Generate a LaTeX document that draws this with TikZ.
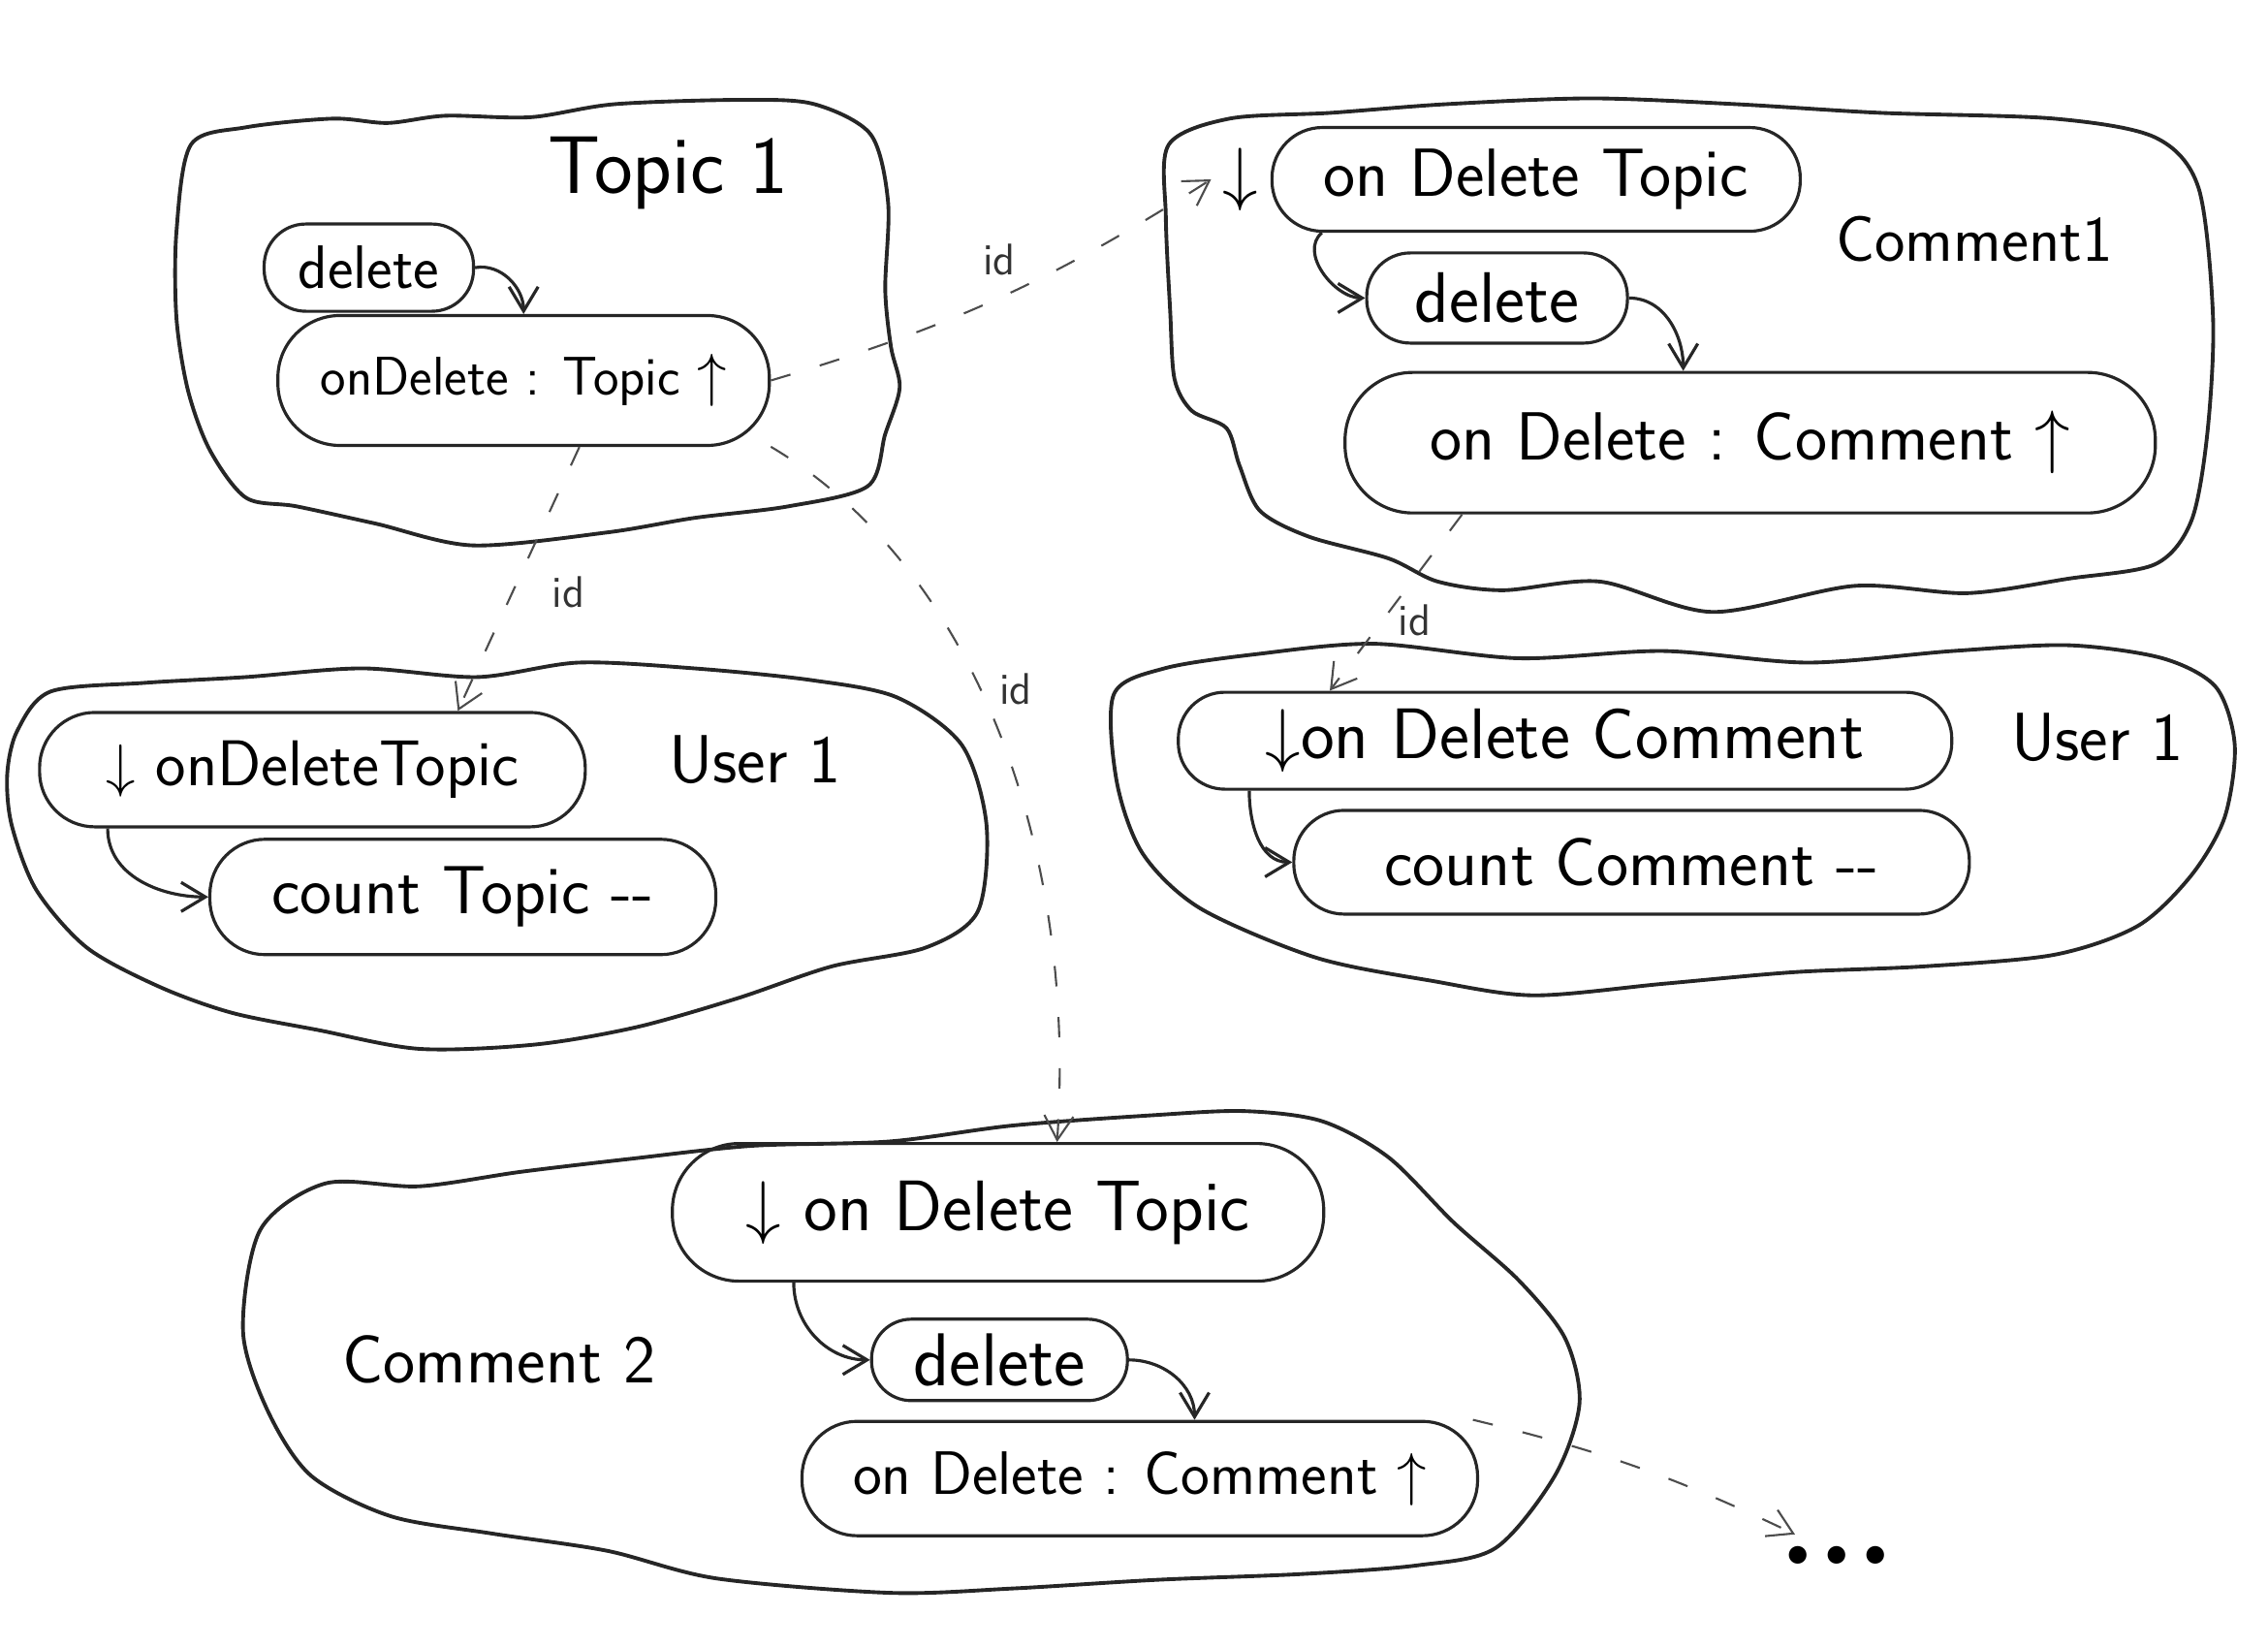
\documentclass[tikz,border=0pt]{standalone}
\usepackage{tikz}
\usetikzlibrary{arrows.meta, positioning}

\begin{document}
\begin{tikzpicture}[
    x=0.014923cm, y=-0.014923cm,
    blob/.style={draw=black!85, line width=1.1pt},
    method/.style={draw=black!85, rectangle, rounded corners=0.42cm,
                   line width=0.9pt, inner sep=2pt, font=\sffamily\fontsize{20}{24}\selectfont},
    blobtitle/.style={font=\sffamily\fontsize{20}{24}\selectfont},
    flow/.style={draw=black!85, line width=0.9pt, -{Straight Barb[length=2.5mm, width=3mm]}},
    link/.style={draw=black!70, line width=0.6pt, dash pattern=on 6pt off 9pt,
                 -{Straight Barb[length=2.5mm, width=3mm]}},
    idlabel/.style={font=\sffamily\fontsize{13}{15}\selectfont, text=black!80}
]
    \useasboundingbox (0,0) rectangle (1568,1139);

    % ==================== TOPIC 1 ====================
    \draw[blob] plot[smooth cycle] coordinates {(132,100) (170,88) (230,82) (268,85)
        (308,80) (367,81) (425,72) (514,69) (563,72) (602,93) (614,140) (612,200)
        (616,240) (622,268) (612,300) (600,336) (545,350) (480,358) (420,368)
        (327,377) (260,362) (205,350) (170,344) (145,311) (130,270) (122,220) (122,160)};
    \node[blobtitle, font=\sffamily\fontsize{24}{28}\selectfont] (topictitle) at (462,120) {Topic 1};
    \node[method, minimum width=2.16cm, minimum height=0.9cm, rounded corners=0.43cm,
          font=\sffamily\fontsize{18}{22}\selectfont] (tdelete) at (255,185) {delete};
    \node[method, minimum width=5.07cm, minimum height=1.34cm, rounded corners=0.64cm,
          font=\sffamily\fontsize{16}{19}\selectfont] (tondelete) at (362,263) {onDelete : Topic $\uparrow$};

    % ==================== COMMENT 1 ====================
    \draw[blob] plot[smooth cycle] coordinates {(808,100) (850,82) (920,78) (1000,72)
        (1100,68) (1200,72) (1300,78) (1420,82) (1490,95) (1520,130) (1530,220)
        (1526,300) (1515,360) (1490,390) (1430,400) (1360,410) (1282,405) (1184,423)
        (1106,402) (1039,408) (994,402) (960,386) (905,371) (871,353) (857,322)
        (848,296) (824,284) (812,262) (809,215) (806,150)};
    \node[blobtitle, font=\sffamily\fontsize{19}{22}\selectfont] (c1title) at (1365,165) {Comment1};
    \node[method, minimum width=5.45cm, minimum height=1.07cm, rounded corners=0.52cm,
          label={[name=c1arrow, font=\sffamily\fontsize{20}{24}\selectfont]left:$\downarrow$}]
          (c1ontopic) at (1062,124) {on Delete Topic};
    \node[method, minimum width=2.69cm, minimum height=0.93cm, rounded corners=0.45cm,
          font=\sffamily\fontsize{21}{25}\selectfont] (c1delete) at (1035,206) {delete};
    \node[method, minimum width=8.36cm, minimum height=1.45cm, rounded corners=0.7cm]
          (c1ondelete) at (1210,306) {on Delete : Comment $\uparrow$};

    % ==================== USER 1 (TOPICS) ====================
    \draw[blob] plot[smooth cycle] coordinates {(12,505) (35,478) (100,472) (170,468)
        (250,462) (330,468) (400,458) (480,462) (560,470) (620,482) (665,515)
        (682,570) (676,630) (640,655) (575,668) (510,690) (440,710) (370,722)
        (290,725) (220,712) (160,700) (110,682) (60,655) (25,615) (8,570) (5,535)};
    \node[blobtitle] (u1title) at (522,525) {User 1};
    \node[method, minimum width=5.63cm, minimum height=1.18cm, rounded corners=0.57cm,
          font=\sffamily\fontsize{19}{22}\selectfont] (u1ontopic) at (216,532)
          {$\downarrow$ onDeleteTopic};
    \node[method, minimum width=5.22cm, minimum height=1.19cm, rounded corners=0.57cm]
          (u1count) at (320,620) {count Topic -{}-};

    % ==================== USER 1 (COMMENTS) ====================
    \draw[blob] plot[smooth cycle] coordinates {(770,480) (805,462) (870,452) (950,445)
        (1050,455) (1150,450) (1250,458) (1350,450) (1430,446) (1495,455) (1532,475)
        (1545,515) (1538,565) (1515,605) (1478,640) (1420,660) (1330,668) (1240,672)
        (1150,680) (1060,688) (990,678) (910,662) (830,628) (790,590) (772,540)};
    \node[blobtitle] (u2title) at (1450,510) {User 1};
    \node[method, minimum width=7.98cm, minimum height=1.0cm, rounded corners=0.48cm,
          font=\sffamily\fontsize{21}{25}\selectfont] (u2oncomment) at (1082,512)
          {$\downarrow$on Delete Comment};
    \node[method, minimum width=6.97cm, minimum height=1.07cm, rounded corners=0.52cm]
          (u2count) at (1128,596) {count Comment -{}-};

    % ==================== COMMENT 2 ====================
    \draw[blob] plot[smooth cycle] coordinates {(180,850) (225,818) (290,820) (360,810)
        (436,801) (520,792) (615,789) (700,778) (795,771) (860,768) (914,775)
        (960,800) (1005,845) (1050,885) (1082,925) (1092,970) (1075,1020) (1034,1070)
        (980,1082) (900,1088) (800,1092) (700,1098) (615,1101) (495,1091) (420,1072)
        (340,1060) (270,1048) (215,1020) (185,975) (168,920)};
    \node[blobtitle] (c2title) at (345,940) {Comment 2};
    \node[method, minimum width=6.72cm, minimum height=1.42cm, rounded corners=0.69cm,
          font=\sffamily\fontsize{21}{25}\selectfont] (c2ontopic) at (690,838)
          {$\downarrow$ on Delete Topic};
    \node[method, minimum width=2.64cm, minimum height=0.84cm, rounded corners=0.41cm,
          font=\sffamily\fontsize{22}{26}\selectfont] (c2delete) at (691,940) {delete};
    \node[method, minimum width=6.97cm, minimum height=1.18cm, rounded corners=0.57cm,
          font=\sffamily\fontsize{18}{22}\selectfont] (c2ondelete) at (788,1022)
          {on Delete : Comment $\uparrow$};
    \node[font=\bfseries\fontsize{36}{40}\selectfont] (more) at (1270,1075) {...};

    % ==================== CALLS ====================
    \draw[flow] (tdelete.east) to[out=10, in=90] (tondelete.north);
    \draw[flow] (c1ontopic.194) to[out=-140, in=180] (c1delete.west);
    \draw[flow] (c1delete.east) to[out=0, in=90] (c1ondelete.133);
    \draw[flow] (u1ontopic.196) to[out=-90, in=180] (u1count.west);
    \draw[flow] (u2oncomment.189) to[out=-90, in=180] (u2count.west);
    \draw[flow] (c2ontopic.199) to[out=-90, in=180] (c2delete.west);
    \draw[flow] (c2delete.east) to[out=0, in=90] (c2ondelete.47);

    % ==================== EVENTS ====================
    \draw[link] (tondelete.east) to[bend right=8]
        node[idlabel, pos=0.5, above=3pt] {id} (c1arrow.west);
    \draw[link] (tondelete.-50) --
        node[idlabel, pos=0.55, right=8pt] {id} (u1ontopic.22);
    \draw[link] (tondelete.-15) .. controls (670,390) and (745,580) ..
        node[idlabel, pos=0.45, right=2pt] {id} (c2ontopic.50);
    \draw[link] (c1ondelete.194) --
        node[idlabel, pos=0.6, right=1pt] {id} (u2oncomment.168);
    \draw[link] (c2ondelete.10) to[bend left=6] (more);
\end{tikzpicture}
\end{document}
